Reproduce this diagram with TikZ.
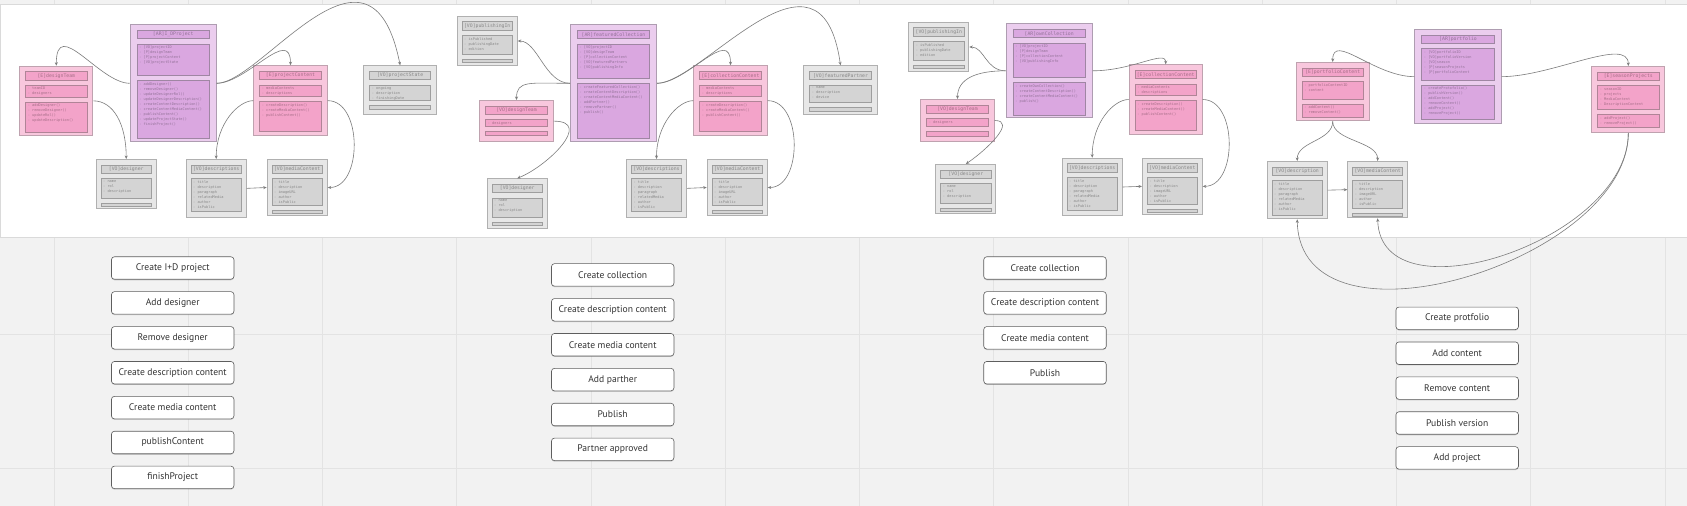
\documentclass[tikz,border=0pt]{standalone}
\usepackage{fontspec}
\setmonofont{DejaVu Sans Mono}
\newfontfamily\uifont{PT Sans}
\usetikzlibrary{arrows.meta, positioning, shadows}

\definecolor{canvas}{HTML}{F2F2F2}
\definecolor{gridline}{HTML}{E3E3E3}
\definecolor{panelline}{HTML}{DADADA}
\definecolor{arfill}{HTML}{EBCDEE}
\definecolor{arsecfill}{HTML}{DAA7E0}
\definecolor{arline}{HTML}{AE9DB1}
\definecolor{arsecline}{HTML}{9F86A3}
\definecolor{artext}{HTML}{947399}
\definecolor{efill}{HTML}{F8C7DD}
\definecolor{esecfill}{HTML}{F3A3C9}
\definecolor{eline}{HTML}{BFA2AF}
\definecolor{esecline}{HTML}{B08497}
\definecolor{etext}{HTML}{A66E88}
\definecolor{vofill}{HTML}{E7E7E7}
\definecolor{vosecfill}{HTML}{D4D4D4}
\definecolor{voline}{HTML}{B0B0B0}
\definecolor{vosecline}{HTML}{9E9E9E}
\definecolor{votext}{HTML}{888888}
\definecolor{linkgray}{HTML}{7C7C7C}
\definecolor{actionline}{HTML}{5E5E5E}
\definecolor{uitext}{HTML}{333333}

\newcommand{\umlhead}{\ttfamily\fontsize{4.8}{5}\selectfont}
\newcommand{\umlattr}{\ttfamily\fontsize{3.6}{5}\selectfont}

\tikzset{
  arout/.style={draw=arline, fill=arfill, line width=1pt, anchor=north west, inner sep=0pt},
  arhead/.style={draw=arsecline, fill=arsecfill, line width=0.75pt, minimum height=8.4pt, inner sep=0pt, font=\umlhead, text=artext},
  arsec/.style={draw=arsecline, fill=arsecfill, line width=0.75pt, inner sep=0pt},
  artxt/.style={anchor=north west, inner sep=0pt, align=left, font=\umlattr, text=artext},
  eout/.style={draw=eline, fill=efill, line width=1pt, anchor=north west, inner sep=0pt},
  ehead/.style={draw=esecline, fill=esecfill, line width=0.75pt, minimum height=8.4pt, inner sep=0pt, font=\umlhead, text=etext},
  esec/.style={draw=esecline, fill=esecfill, line width=0.75pt, inner sep=0pt},
  etxt/.style={anchor=north west, inner sep=0pt, align=left, font=\umlattr, text=etext},
  voout/.style={draw=voline, fill=vofill, line width=1pt, anchor=north west, inner sep=0pt},
  vohead/.style={draw=vosecline, fill=vosecfill, line width=0.75pt, minimum height=8.4pt, inner sep=0pt, font=\umlhead, text=votext},
  vosec/.style={draw=vosecline, fill=vosecfill, line width=0.75pt, inner sep=0pt},
  votxt/.style={anchor=north west, inner sep=0pt, align=left, font=\umlattr, text=votext},
  link/.style={draw=linkgray, line width=0.6pt, -{Stealth[length=3.5pt, width=3pt]}},
  action/.style={draw=actionline, fill=white, rounded corners=3pt, line width=0.6pt,
    minimum width=122.5pt, minimum height=22.5pt, inner sep=0pt,
    font=\uifont\fontsize{9.6}{11}\selectfont, text=uitext,
    drop shadow={shadow xshift=0pt, shadow yshift=-1pt, opacity=0.3, fill=black!60}}
}

% box: kind, name, top left corner, width, height, title
\newcommand{\umlbox}[6]{%
  \def\umlw{#4pt}%
  \node[#1out, minimum width=#4pt, minimum height=#5pt] (#2) at (#3) {};
  \node[#1head, anchor=north, minimum width=0.84*\umlw] (#2-h) at ([yshift=-5.7pt]#2.north) {#6};
  \def\umlprev{#2-h}}
% section under the previous one: kind, name, height, lines
\newcommand{\umlsec}[4]{%
  \node[#1sec, anchor=north, minimum width=0.84*\umlw, minimum height=#3pt] (#2) at ([yshift=-4.4pt]\umlprev.south) {};
  \node[#1txt] (#2-t) at ([xshift=2.4pt, yshift=-2.2pt]#2.north west) {#4};
  \def\umlprev{#2}}

\begin{document}
\begin{tikzpicture}[x=1pt, y=-1pt]
  \useasboundingbox (0,0) rectangle (1687,506);

  % board and grid
  \fill[canvas] (0,0) rectangle (1687,506);
  \draw[gridline, line width=0.8pt]
    (54,0) -- (54,506) (188.25,0) -- (188.25,506) (322.5,0) -- (322.5,506)
    (456.75,0) -- (456.75,506) (591,0) -- (591,506) (725.25,0) -- (725.25,506)
    (859.5,0) -- (859.5,506) (993.75,0) -- (993.75,506) (1128,0) -- (1128,506)
    (1262.25,0) -- (1262.25,506) (1396.5,0) -- (1396.5,506) (1530.75,0) -- (1530.75,506)
    (1665,0) -- (1665,506)
    (0,334) -- (1687,334) (0,468) -- (1687,468);
  \draw[panelline, fill=white, line width=0.8pt] (0.4,4.4) rectangle (1687.5,237);

  % I+D project
  \umlbox{ar}{idp}{129.7,24.3}{86}{117}{[AR]I\_DProject}
  \umlsec{ar}{idp-a}{31.3}{- [VO]projectID\\- [P]designTeam\\- [P]projectContent\\- [VO]projectState}
  \umlsec{ar}{idp-m}{58}{- addDesigner()\\- removeDesigner()\\- updateDesignerRol()\\- updateDesignerDescription()\\- createContentDescription()\\- createContentMediaContent()\\- publishContent()\\- updateProjectState()\\- finishProject()}

  \umlbox{e}{dt1}{19.3,65.7}{73}{69.3}{[E]designTeam}
  \umlsec{e}{dt1-a}{11.7}{- teamID\\- designers}
  \umlsec{e}{dt1-m}{30}{- addDesigner()\\- removeDesigner()\\- updateRol()\\- updateDescription()}

  \umlbox{e}{pc1}{253.3,65.3}{73.4}{69.7}{[E]projectContent}
  \umlsec{e}{pc1-a}{11.7}{- mediaContents\\- descriptions}
  \umlsec{e}{pc1-m}{30}{- createDescription()\\- createMediaContent()\\- publishContent()}

  \umlbox{vo}{ps1}{363.3,65.3}{72.7}{49}{[VO]projectState}
  \umlsec{vo}{ps1-a}{15.7}{- ongoing\\- description\\- finishingDate}
  \umlsec{vo}{ps1-m}{3.4}{}

  \umlbox{vo}{dz1}{95.7,159}{60}{49.3}{[VO]designer}
  \umlsec{vo}{dz1-a}{19.4}{- name\\- rol\\- description}
  \umlsec{vo}{dz1-m}{2.8}{}

  \umlbox{vo}{ds1}{185.7,159}{60}{57.7}{[VO]descriptions}
  \umlsec{vo}{ds1-a}{32.7}{- title\\- description\\- paragraph\\- relatedMedia\\- author\\- isPublic}

  \umlbox{vo}{mc1}{266.7,159}{60}{56}{[VO]mediaContent}
  \umlsec{vo}{mc1-a}{26.7}{- title\\- description\\- imageURL\\- author\\- isPublic}
  \umlsec{vo}{mc1-m}{2.7}{}

  % featured collection
  \umlbox{vo}{pi2}{456.7,15.7}{60}{49.6}{[VO]publishingIn}
  \umlsec{vo}{pi2-a}{19.3}{- isPublished\\- publishingDate\\- edition}
  \umlsec{vo}{pi2-m}{2.6}{}

  \umlbox{ar}{fc2}{570,24.3}{86}{117}{[AR]featuredCollection}
  \umlsec{ar}{fc2-a}{34.6}{- [VO]projectID\\- [VO]designTeam\\- [P]collectionContent\\- [VO]featuredPartners\\- [VO]publishingInfo}
  \umlsec{ar}{fc2-m}{54.7}{- createFeaturedCollection()\\- createContentDescription()\\- createContentMediaContent()\\- addPartner()\\- removePartner()\\- publish()}

  \umlbox{e}{dt2}{479.3,100}{73.4}{41.3}{[VO]designTeam}
  \umlsec{e}{dt2-a}{6.6}{- designers}
  \umlsec{e}{dt2-m}{4.3}{}

  \umlbox{e}{cc2}{693.3,65.3}{73.4}{69.7}{[E]collectionContent}
  \umlsec{e}{cc2-a}{11.7}{- mediaContents\\- descriptions}
  \umlsec{e}{cc2-m}{29.3}{- createDescription()\\- createMediaContent()\\- publishContent()}

  \umlbox{vo}{fp2}{803.3,65.3}{73.4}{49}{[VO]featuredPartner}
  \umlsec{vo}{fp2-a}{17.4}{- name\\- description\\- device}
  \umlsec{vo}{fp2-m}{4}{}

  \umlbox{vo}{dz2}{486.7,178.3}{60}{50}{[VO]designer}
  \umlsec{vo}{dz2-a}{19.4}{- name\\- rol\\- description}
  \umlsec{vo}{dz2-m}{2.8}{}

  \umlbox{vo}{ds2}{626,159}{60}{57.7}{[VO]descriptions}
  \umlsec{vo}{ds2-a}{32.7}{- title\\- description\\- paragraph\\- relatedMedia\\- author\\- isPublic}

  \umlbox{vo}{mc2}{706.7,159}{60}{56}{[VO]mediaContent}
  \umlsec{vo}{mc2-a}{26.7}{- title\\- description\\- imageURL\\- author\\- isPublic}
  \umlsec{vo}{mc2-m}{2.7}{}

  % own collection
  \umlbox{vo}{pi3}{908.3,21.7}{60}{49.6}{[VO]publishingIn}
  \umlsec{vo}{pi3-a}{19.3}{- isPublished\\- publishingDate\\- edition}
  \umlsec{vo}{pi3-m}{2.6}{}

  \umlbox{ar}{oc3}{1005.7,23.3}{86}{94}{[AR]ownCollection}
  \umlsec{ar}{oc3-a}{34.4}{- [VO]projectID\\- [P]designTeam\\- [P]collectionContent\\- [VO]publishingInfo}
  \umlsec{ar}{oc3-m}{32.6}{- createOwnCollection()\\- createContentDescription()\\- createContentMediaContent()\\- publish()}

  \umlbox{e}{dt3}{920.3,99}{73.4}{42}{[VO]designTeam}
  \umlsec{e}{dt3-a}{8}{- designers}
  \umlsec{e}{dt3-m}{4.6}{}

  \umlbox{e}{cc3}{1128.7,64.3}{73}{69.4}{[E]collectionContent}
  \umlsec{e}{cc3-a}{11.7}{- mediaContents\\- descriptions}
  \umlsec{e}{cc3-m}{29.3}{- createDescription()\\- createMediaContent()\\- publishContent()}

  \umlbox{vo}{dz3}{935.3,164}{60}{49.3}{[VO]designer}
  \umlsec{vo}{dz3-a}{19.4}{- name\\- rol\\- description}
  \umlsec{vo}{dz3-m}{2.8}{}

  \umlbox{vo}{ds3}{1061.7,157.7}{60}{57.6}{[VO]descriptions}
  \umlsec{vo}{ds3-a}{32.7}{- title\\- description\\- paragraph\\- relatedMedia\\- author\\- isPublic}

  \umlbox{vo}{mc3}{1142,157.7}{59.7}{56.3}{[VO]mediaContent}
  \umlsec{vo}{mc3-a}{26.7}{- title\\- description\\- imageURL\\- author\\- isPublic}
  \umlsec{vo}{mc3-m}{2.7}{}

  % portfolio
  \umlbox{e}{pfc4}{1295.7,62}{73}{58.3}{[E]portfolioContent}
  \umlsec{e}{pfc4-a}{17.4}{- portfolioContentID\\- content}
  \umlsec{e}{pfc4-m}{13.3}{- addContent()\\- removeContent()}

  \umlbox{ar}{pf4}{1414.3,29}{86.4}{94.3}{[AR]portfolio}
  \umlsec{ar}{pf4-a}{31.4}{- [VO]portfolioID\\- [VO]portfolioVersion\\- [VO]season\\- [P]seasonProjects\\- [P]portfolioContent}
  \umlsec{ar}{pf4-m}{34}{- createProtofolio()\\- publishVersion()\\- addContent()\\- removeContent()\\- addProject()\\- removeProject()}

  \umlbox{e}{sp4}{1591.3,66}{73}{66}{[E]seasonProjects}
  \umlsec{e}{sp4-a}{23.6}{- seasonID\\- projects\\- MediaContent\\- DescriptionContent}
  \umlsec{e}{sp4-m}{13.3}{- addProject()\\- removeProject()}

  \umlbox{vo}{ds4}{1266.7,161}{60}{57.3}{[VO]description}
  \umlsec{vo}{ds4-a}{35}{- title\\- description\\- paragraph\\- relatedMedia\\- author\\- isPublic}

  \umlbox{vo}{mc4}{1347.3,161}{59.7}{56.3}{[VO]mediaContent}
  \umlsec{vo}{mc4-a}{27.4}{- title\\- description\\- imageURL\\- author\\- isPublic}
  \umlsec{vo}{mc4-m}{2.7}{}

  % relations
  \draw[link] (idp.west) .. controls +(-30,0) and +(0,-50) .. (dt1.north);
  \draw[link] (idp.east) .. controls +(30,0) and +(0,-40) .. (pc1.north);
  \draw[link] (idp.east) .. controls +(45,0) and +(-30,-150) .. (ps1.north);
  \draw[link] (dt1.east) .. controls +(20,0) and +(0,-35) .. (dz1.north);
  \draw[link] (pc1.west) .. controls +(-15,0) and +(0,-35) .. (ds1.north);
  \draw[link] (pc1.east) .. controls +(35,0) and +(35,0) .. (mc1.east);
  \draw[link] (ds1.east) -- (mc1.west);

  \draw[link] (fc2.west) .. controls +(-25,0) and +(20,0) .. (pi2.east);
  \draw[link] (fc2.west) .. controls +(-40,0) and +(0,-20) .. (dt2.north);
  \draw[link] (fc2.east) .. controls +(30,0) and +(0,-40) .. (cc2.north);
  \draw[link] (fc2.east) .. controls +(45,0) and +(-20,-140) .. (fp2.north);
  \draw[link] (dt2.east) .. controls +(40,0) and +(30,-12) .. (dz2.north);
  \draw[link] (cc2.west) .. controls +(-15,0) and +(0,-35) .. (ds2.north);
  \draw[link] (cc2.east) .. controls +(35,0) and +(35,0) .. (mc2.east);
  \draw[link] (ds2.east) -- (mc2.west);

  \draw[link] (oc3.west) .. controls +(-20,0) and +(15,0) .. (pi3.east);
  \draw[link] (oc3.west) .. controls +(-30,0) and +(0,-20) .. (dt3.north);
  \draw[link] (oc3.east) .. controls +(40,0) and +(0,-15) .. (cc3.north);
  \draw[link] (dt3.east) .. controls +(22,0) and +(22,-15) .. (dz3.north);
  \draw[link] (cc3.west) .. controls +(-15,0) and +(0,-35) .. (ds3.north);
  \draw[link] (cc3.east) .. controls +(35,0) and +(35,0) .. (mc3.east);
  \draw[link] (ds3.east) -- (mc3.west);

  \draw[link] (pf4.west) .. controls +(-40,0) and +(0,-30) .. (pfc4.north);
  \draw[link] (pf4.east) .. controls +(50,0) and +(0,-30) .. (sp4.north);
  \draw[link] (pfc4.south) .. controls +(0,20) and +(0,-20) .. (ds4.north);
  \draw[link] (pfc4.south) .. controls +(0,20) and +(0,-20) .. (mc4.north);
  \draw[link] (ds4.east) -- (mc4.west);
  \draw[link] (sp4.south) .. controls +(0,128) and +(3,142) .. (ds4.south);
  \draw[link] (sp4.south) .. controls +(0,108) and +(3,103) .. (mc4.south);

  % use cases
  \node[action] (a1) at (172.7,268) {Create I+D project};
  \node[action, below=11.8pt of a1] (a2) {Add designer};
  \node[action, below=11.8pt of a2] (a3) {Remove designer};
  \node[action, below=11.8pt of a3] (a4) {Create description content};
  \node[action, below=11.8pt of a4] (a5) {Create media content};
  \node[action, below=11.8pt of a5] (a6) {publishContent};
  \node[action, below=11.8pt of a6] (a7) {finishProject};

  \node[action] (b1) at (612.7,274.9) {Create collection};
  \node[action, below=11.8pt of b1] (b2) {Create description content};
  \node[action, below=11.8pt of b2] (b3) {Create media content};
  \node[action, below=11.8pt of b3] (b4) {Add parther};
  \node[action, below=11.8pt of b4] (b5) {Publish};
  \node[action, below=11.8pt of b5] (b6) {Partner approved};

  \node[action] (c1) at (1045,268) {Create collection};
  \node[action, below=11.8pt of c1] (c2) {Create description content};
  \node[action, below=11.8pt of c2] (c3) {Create media content};
  \node[action, below=11.8pt of c3] (c4) {Publish};

  \node[action] (d1) at (1457.2,318.3) {Create protfolio};
  \node[action, below=11.8pt of d1] (d2) {Add content};
  \node[action, below=11.8pt of d2] (d3) {Remove content};
  \node[action, below=11.8pt of d3] (d4) {Publish version};
  \node[action, below=11.8pt of d4] (d5) {Add project};
\end{tikzpicture}
\end{document}
